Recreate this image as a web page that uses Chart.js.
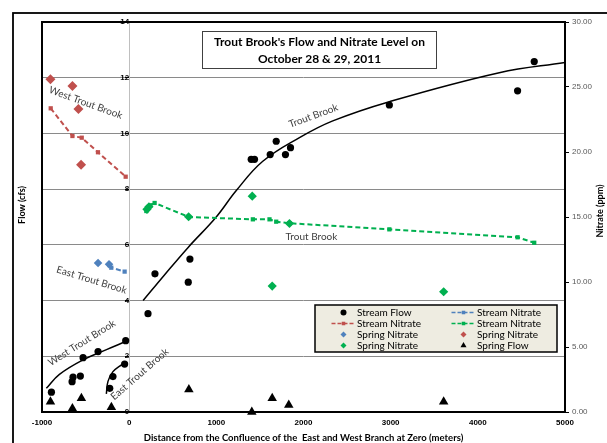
<!DOCTYPE html>
<html>
<head>
<meta charset="utf-8">
<script src="https://cdn.jsdelivr.net/npm/chart.js@4.4.0/dist/chart.umd.min.js"></script>
<style>
  html, body { margin: 0; padding: 0; background: #fff; }
  #wrap { width: 607px; height: 443px; }
</style>
</head>
<body>
<div id="wrap"><canvas id="troutChart" width="607" height="443"></canvas></div>
<script>
// Stream flow (cfs) along the brook, distance in meters from the confluence
const streamFlowX = [-892, -655, -644, -560, -529, -357, -40, -223, -186, -52, 216, 296, 678, 697, 1400, 1438, 1618, 1687, 1793, 1851, 2985, 4456, 4647];
const streamFlowY = [0.71, 1.09, 1.25, 1.29, 1.95, 2.17, 2.56, 0.85, 1.27, 1.72, 3.53, 4.96, 4.66, 5.49, 9.07, 9.07, 9.24, 9.72, 9.24, 9.49, 11.02, 11.53, 12.58];

// Spring flow (cfs)
const springFlowX = [-903, -651, -548, -204, 685, 1407, 1641, 1831, 3608];
const springFlowY = [0.37, 0.13, 0.49, 0.17, 0.81, 0.0, 0.49, 0.25, 0.37];

// Stream nitrate (ppm): east branch (blue), west branch (red), main brook (green)
const eastNitrateX = [-225, -205, -52];
const eastNitrateY = [11.3, 11.1, 10.8];
const westNitrateX = [-900, -651, -544, -358, -40];
const westNitrateY = [23.36, 21.23, 21.1, 19.98, 18.1];
const mainNitrateX = [197, 215, 243, 292, 685, 1419, 1610, 1687, 1839, 2985, 4456, 4647];
const mainNitrateY = [15.46, 15.65, 15.9, 16.08, 15.0, 14.82, 14.82, 14.64, 14.52, 14.05, 13.44, 13.02];

// Spring nitrate (ppm)
const eastSpringX = [-357, -231];
const eastSpringY = [11.46, 11.36];
const westSpringX = [-903, -651, -582, -552];
const westSpringY = [25.6, 25.08, 23.3, 19.02];
const mainSpringX = [204, 227, 682, 1412, 1839, 1641, 3608];
const mainSpringY = [15.59, 15.79, 15.02, 16.6, 14.5, 9.69, 9.25];

// flow trendlines
const mainTrendX = [160, 400, 674, 999, 1229, 1533, 1954, 2336, 2985, 4246, 5000];
const mainTrendY = [4.0, 4.9, 5.9, 7.0, 7.95, 9.0, 9.85, 10.45, 11.14, 12.18, 12.55];
const westTrendX = [-950, -800, -530, -260, -40];
const westTrendY = [0.85, 1.35, 1.87, 2.24, 2.53];
const eastTrendX = [-262, -243, -186, -109, -52];
const eastTrendY = [0.65, 1.1, 1.45, 1.65, 1.75];

// axis ticks
const distanceTicks = [-1000, 0, 1000, 2000, 3000, 4000, 5000];
const flowTicks = [0, 2, 4, 6, 8, 10, 12, 14];
const nitrateTicks = [0, 5, 10, 15, 20, 25, 30];

const pts = (xs, ys) => xs.map((x, i) => ({x: x, y: ys[i]}));

const RED = '#c0504d';
const BLUE = '#4f81bd';
const GREEN = '#00b050';

Chart.defaults.font.family = '"Liberation Sans", Arial, sans-serif';

function markers(style, r, color) {
  return {pointStyle: style, pointRadius: r, pointHoverRadius: r, pointBorderWidth: 0,
          backgroundColor: color, borderColor: color};
}
function dashed(color) {
  return {showLine: true, borderColor: color, borderWidth: 2, borderDash: [5, 3],
          pointStyle: 'rect', pointRadius: 3, pointHoverRadius: 3, pointBorderWidth: 0,
          backgroundColor: color, pointBackgroundColor: color};
}
function trend(xs, ys) {
  return {data: pts(xs, ys), yAxisID: 'y', showLine: true, borderColor: '#000', borderWidth: 1.5,
          pointRadius: 0, tension: 0.4, trend: true};
}

const datasets = [
  Object.assign({label: 'Stream Flow', data: pts(streamFlowX, streamFlowY), yAxisID: 'y'}, markers('circle', 3.6, '#000')),
  Object.assign({label: 'Stream Nitrate', data: pts(eastNitrateX, eastNitrateY), yAxisID: 'y2'}, dashed(BLUE)),
  Object.assign({label: 'Stream Nitrate', data: pts(westNitrateX, westNitrateY), yAxisID: 'y2'}, dashed(RED)),
  Object.assign({label: 'Stream Nitrate', data: pts(mainNitrateX, mainNitrateY), yAxisID: 'y2'}, dashed(GREEN)),
  Object.assign({label: 'Spring Nitrate', data: pts(eastSpringX, eastSpringY), yAxisID: 'y2'}, markers('rectRot', 4.3, BLUE)),
  Object.assign({label: 'Spring Nitrate', data: pts(westSpringX, westSpringY), yAxisID: 'y2'}, markers('rectRot', 5, RED)),
  Object.assign({label: 'Spring Nitrate', data: pts(mainSpringX, mainSpringY), yAxisID: 'y2'}, markers('rectRot', 4.6, GREEN)),
  Object.assign({label: 'Spring Flow', data: pts(springFlowX, springFlowY), yAxisID: 'y', clip: false}, markers('triangle', 5.5, '#000')),
  trend(mainTrendX, mainTrendY),
  trend(westTrendX, westTrendY),
  trend(eastTrendX, eastTrendY)
];

// labels written on the plot, placed in data units (meters, cfs)
const notes = [
  {text: 'West Trout Brook', x: -498, y: 11.1, angle: 20},
  {text: 'Trout Brook', x: 2114, y: 10.63, angle: -20},
  {text: 'Trout Brook', x: 2091, y: 6.28, angle: 0},
  {text: 'East Trout Brook', x: -430, y: 4.74, angle: 17},
  {text: 'West Trout Brook', x: -544, y: 2.48, angle: -32},
  {text: 'East Trout Brook', x: 120, y: 1.36, angle: -41}
];

const decor = {
  id: 'decor',
  beforeDraw(chart) {
    const ctx = chart.ctx;
    ctx.save();
    ctx.fillStyle = '#fff';
    ctx.fillRect(0, 0, chart.width, chart.height);
    ctx.restore();
  },
  beforeDatasetsDraw(chart) {
    const {ctx, chartArea: a} = chart;
    ctx.save();
    ctx.strokeStyle = '#000';
    ctx.lineWidth = 2;
    ctx.strokeRect(a.left, a.top, a.right - a.left, a.bottom - a.top);
    ctx.restore();
  },
  afterDraw(chart) {
    const {ctx, scales} = chart;
    const H = Chart.helpers;
    ctx.save();

    // outer frame
    ctx.strokeStyle = '#000';
    ctx.lineWidth = 1.8;
    ctx.strokeRect(13, 13, 800, 800);

    // vertical axis titles
    ctx.fillStyle = '#000';
    ctx.font = 'bold 9px Lato';
    ctx.textAlign = 'center';
    ctx.textBaseline = 'middle';
    [['Flow (cfs)', 22, 205], ['Nitrate (ppm)', 600, 211]].forEach(([t, x, y]) => {
      ctx.save();
      ctx.translate(x, y);
      ctx.rotate(-Math.PI / 2);
      ctx.fillText(t, 0, 0);
      ctx.restore();
    });

    // labels on the plot
    ctx.fillStyle = '#404040';
    ctx.font = '10px Lato';
    notes.forEach(n => {
      ctx.save();
      ctx.translate(scales.x.getPixelForValue(n.x), scales.y.getPixelForValue(n.y));
      ctx.rotate(n.angle * Math.PI / 180);
      ctx.fillText(n.text, 0, 0);
      ctx.restore();
    });

    // title box
    ctx.fillStyle = '#fff';
    ctx.fillRect(202, 31, 235, 37);
    ctx.strokeStyle = '#404040';
    ctx.lineWidth = 1;
    ctx.strokeRect(202.5, 31.5, 234, 37);
    ctx.fillStyle = '#000';
    ctx.font = 'bold 12px Lato';
    ctx.fillText("Trout Brook's Flow and Nitrate Level on", 319.5, 42);
    ctx.fillText('October 28 & 29, 2011', 319.5, 59);

    // legend
    const lx = 315, ly = 305, lw = 242, lh = 47;
    ctx.fillStyle = '#eeece1';
    ctx.fillRect(lx, ly, lw, lh);
    ctx.strokeStyle = '#000';
    ctx.lineWidth = 1.5;
    ctx.strokeRect(lx, ly, lw, lh);
    ctx.font = '10px Lato';
    ctx.textAlign = 'left';
    const items = chart.data.datasets.filter(d => !d.trend);
    items.forEach((d, i) => {
      const col = i % 2, row = Math.floor(i / 2);
      const mx = col ? 463.5 : 343.5;
      const y = 312.5 + row * 11;
      const color = d.backgroundColor;
      if (d.showLine) {
        ctx.save();
        ctx.strokeStyle = d.borderColor;
        ctx.lineWidth = 1.5;
        ctx.setLineDash([4, 2]);
        ctx.beginPath();
        ctx.moveTo(mx - 12, y);
        ctx.lineTo(mx + 12, y);
        ctx.stroke();
        ctx.restore();
      }
      ctx.fillStyle = color;
      ctx.strokeStyle = color;
      const r = d.showLine ? 2.5 : (d.pointStyle === 'triangle' ? 3.5 : 3);
      H.drawPoint(ctx, {pointStyle: d.pointStyle, radius: r, rotation: 0, borderWidth: 0}, mx, y);
      ctx.fillStyle = '#000';
      ctx.fillText(d.label, col ? 477 : 357, y + 0.5);
    });
    ctx.restore();
  }
};

new Chart(document.getElementById('troutChart'), {
  type: 'scatter',
  data: {datasets: datasets},
  options: {
    responsive: false,
    animation: false,
    devicePixelRatio: 1,
    layout: {padding: {left: 42, top: 22, right: 0, bottom: 0}},
    plugins: {legend: {display: false}, tooltip: {enabled: false}},
    scales: {
      x: {
        type: 'linear', min: -1000, max: 5000,
        afterBuildTicks: s => { s.ticks = distanceTicks.map(v => ({value: v})); },
        afterFit: s => { s.height = 31; },
        ticks: {font: {size: 8, weight: 'bold'}, color: '#000', padding: 6, maxRotation: 0,
                callback: v => String(v)},
        grid: {display: false, drawTicks: false},
        border: {display: true, color: '#000', width: 2},
        title: {display: true, text: 'Distance from the Confluence of the  East and West Branch at Zero (meters)',
                font: {family: 'Lato', size: 9.5, weight: 'bold'}, color: '#000', padding: {top: 0, bottom: -1}}
      },
      y: {
        type: 'linear', position: {x: 0}, min: 0, max: 14,
        afterBuildTicks: s => { s.ticks = flowTicks.map(v => ({value: v})); },
        ticks: {font: {size: 8, weight: 'bold'}, color: '#000', padding: 3},
        grid: {color: '#8a8a8a', lineWidth: 1, tickLength: 4, tickColor: '#000'},
        border: {color: '#bfbfbf', width: 1}
      },
      y2: {
        type: 'linear', position: 'right', min: 0, max: 30,
        afterBuildTicks: s => { s.ticks = nitrateTicks.map(v => ({value: v})); },
        afterFit: s => { s.width = 42; },
        ticks: {font: {size: 8}, color: '#595959', padding: 3, callback: v => v.toFixed(2)},
        grid: {drawOnChartArea: false, tickLength: 4, tickColor: '#000'},
        border: {color: '#000', width: 2}
      }
    }
  },
  plugins: [decor]
});
</script>
</body>
</html>
